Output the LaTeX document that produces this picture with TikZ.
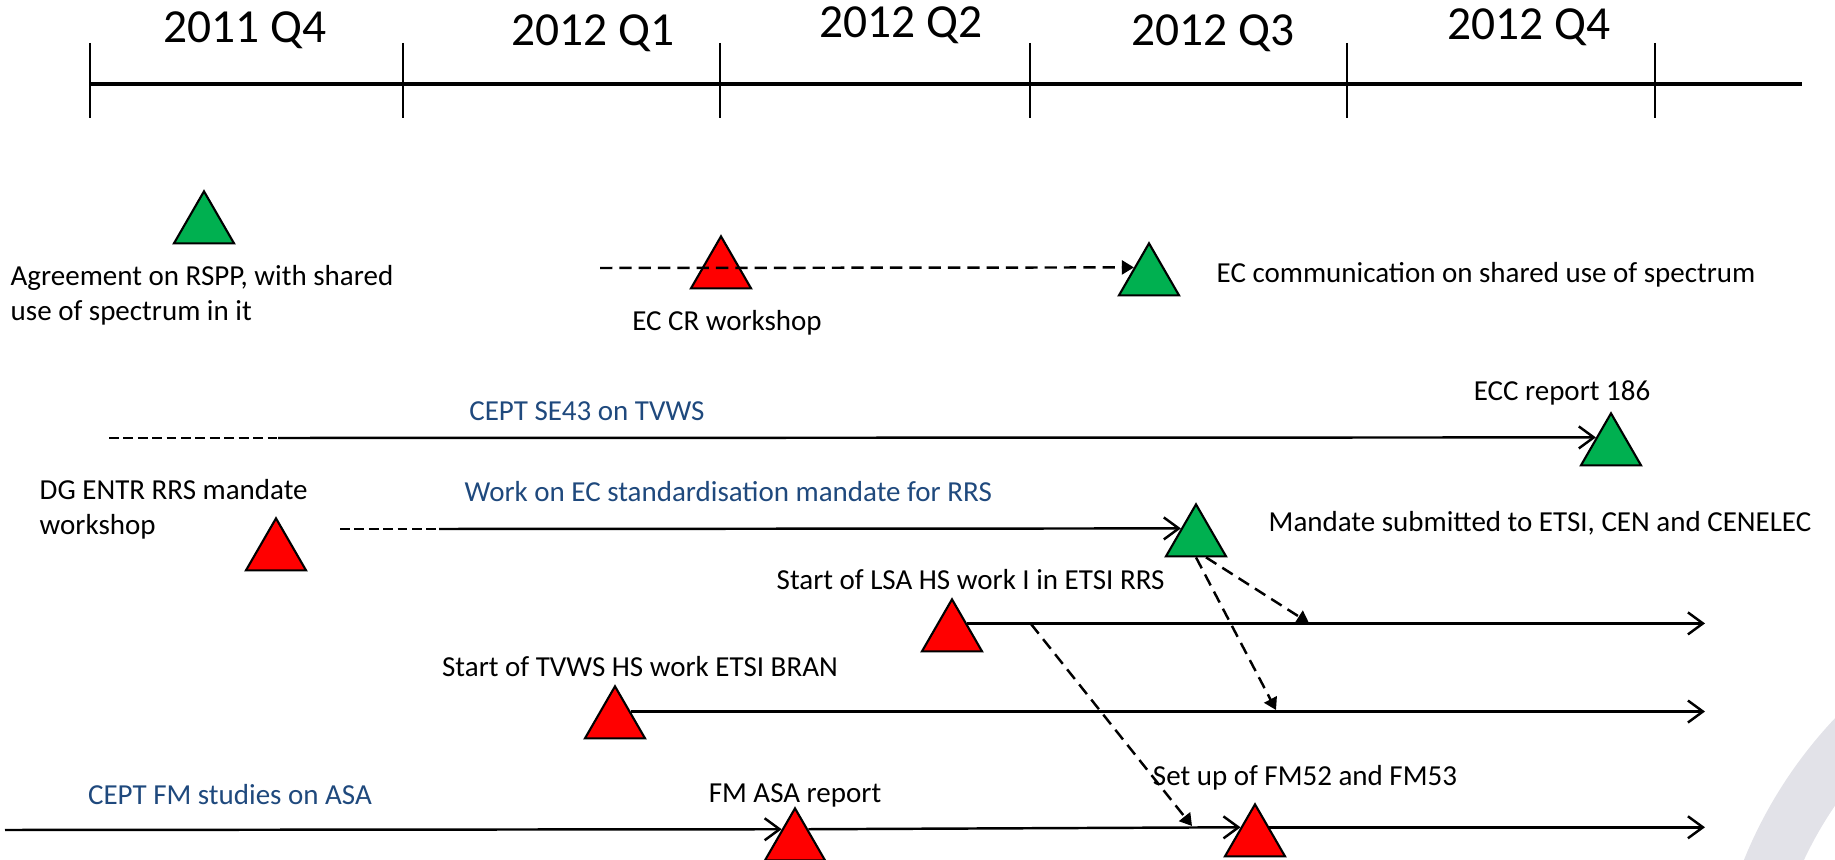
\documentclass[tikz,border=0pt]{standalone}
\usepackage{fontspec}
\setmainfont{Carlito}
\usepackage{xcolor}
\usepackage{tikz}
\usetikzlibrary{shapes.geometric,arrows.meta}
\definecolor{offgreen}{RGB}{0,176,80}
\definecolor{offblue}{RGB}{31,73,125}
\definecolor{ringgray}{RGB}{226,226,232}
\tikzset{tri/.style={regular polygon,regular polygon sides=3,draw,line width=0.6pt,minimum size=0.693cm,inner sep=0pt},
gtri/.style={tri,fill=offgreen},
rtri/.style={tri,fill=red},
lab/.style={inner sep=0pt,font=\fontsize{8.25}{10}\selectfont},
blab/.style={lab,text=offblue},
qlab/.style={inner sep=0pt,font=\fontsize{13.5}{16}\selectfont},
bar/.style={line width=0.7pt,-{Straight Barb[length=1.5mm,width=2.2mm]}},
pre/.style={line width=0.6pt,dash pattern=on 2.8pt off 1.3pt},
dsh/.style={line width=0.7pt,dash pattern=on 3.5pt off 2pt,-{Triangle[length=1.2mm,width=1.4mm]}}}

\begin{document}
\begin{tikzpicture}
    \useasboundingbox (0,0) rectangle (18.35,8.6);
    \begin{scope}
    \clip (0,0) rectangle (18.35,8.6);
    \draw [ringgray,line width=0.55cm] (21.65,-1.70) circle (4.265);
    \end{scope}

    % time axis
    \draw [line width=1.3pt] (0.90,7.76) -- (18.02,7.76);
    \foreach \x in {0.90,4.03,7.20,10.30,13.47,16.55}
        \draw [line width=0.5pt] (\x,8.17) -- (\x,7.42);
    \node[qlab] (q4a) at (2.45,8.30) {2011 Q4};
    \node[qlab] (q1) at (5.93,8.27) {2012 Q1};
    \node[qlab] (q2) at (9.01,8.35) {2012 Q2};
    \node[qlab] (q3) at (12.13,8.27) {2012 Q3};
    \node[qlab] (q4) at (15.29,8.33) {2012 Q4};

    % milestones
    \node[gtri] (rspp) at (2.04,6.34) {};
    \node[rtri] (crws) at (7.21,5.89) {};
    \node[gtri] (ecom) at (11.49,5.82) {};
    \node[gtri] (ecc) at (16.11,4.12) {};
    \node[rtri] (dgws) at (2.76,3.07) {};
    \node[gtri] (mand) at (11.96,3.21) {};
    \node[rtri] (lsa) at (9.52,2.26) {};
    \node[rtri] (tvws) at (6.15,1.39) {};
    \node[rtri] (asa) at (7.95,0.17) {};
    \node[rtri] (fmset) at (12.55,0.21) {};

    \node[lab,anchor=west,align=left] (rspplab) at (0.10,5.645) {Agreement on RSPP, with shared\\use of spectrum in it};
    \node[lab] (crwslab) at (7.27,5.37) {EC CR workshop};
    \node[lab,anchor=west] (ecomlab) at (12.16,5.85) {EC communication on shared use of spectrum};
    \node[blab] (se43lab) at (5.87,4.49) {CEPT SE43 on TVWS};
    \node[lab] (ecclab) at (15.62,4.67) {ECC report 186};
    \node[lab,anchor=west,align=left] (dgwslab) at (0.39,3.505) {DG ENTR RRS mandate\\workshop};
    \node[blab,anchor=west] (rrslab) at (4.64,3.68) {Work on EC standardisation mandate for RRS};
    \node[lab,anchor=west] (mandlab) at (12.68,3.37) {Mandate submitted to ETSI, CEN and CENELEC};
    \node[lab,anchor=west] (lsalab) at (7.76,2.80) {Start of LSA HS work I in ETSI RRS};
    \node[lab] (tvwslab) at (6.40,1.93) {Start of TVWS HS work ETSI BRAN};
    \node[blab] (fmstudlab) at (2.30,0.65) {CEPT FM studies on ASA};
    \node[lab] (asalab) at (7.95,0.65) {FM ASA report};
    \node[lab] (fmsetlab) at (13.05,0.82) {Set up of FM52 and FM53};

    % activity lines
    \coordinate (rend) at (17.05,0);
    \coordinate (crs) at (6.00,5.92);
    \coordinate (se43s) at (1.09,4.22);
    \coordinate (se43m) at (2.78,4.22);
    \coordinate (rrss) at (3.40,3.31);
    \coordinate (rrsm) at (4.39,3.31);
    \coordinate (fmst) at (0.05,0.30);
    \coordinate (lsax) at (10.31,2.36);
    \coordinate (lsaa) at (13.09,2.37);
    \coordinate (tvwsb) at (12.76,1.50);
    \coordinate (fmc) at (11.92,0.34);

    \draw [dsh] (crs) to [] (ecom.145);
    \draw [pre] (se43s) to [] (se43m);
    \draw [bar] (se43m) to [] (ecc.145);
    \draw [pre] (rrss) to [] (rrsm);
    \draw [bar] (rrsm) to [] (mand.145);
    \draw [bar] (lsa.35) to [] (lsa.35 -| rend);
    \draw [bar] (tvws.31) to [] (tvws.31 -| rend);
    \draw [bar] (fmst) to [] (asa.134);
    \draw [bar] (asa.46) to [] (fmset.141);
    \draw [bar] (fmset.39) to [] (fmset.39 -| rend);
    \draw [dsh] ([xshift=1mm]mand.south) to [] (lsaa);
    \draw [dsh] (mand.south) to [] (tvwsb);
    \draw [dsh] (lsax) to [] (fmc);
\end{tikzpicture}
\end{document}
